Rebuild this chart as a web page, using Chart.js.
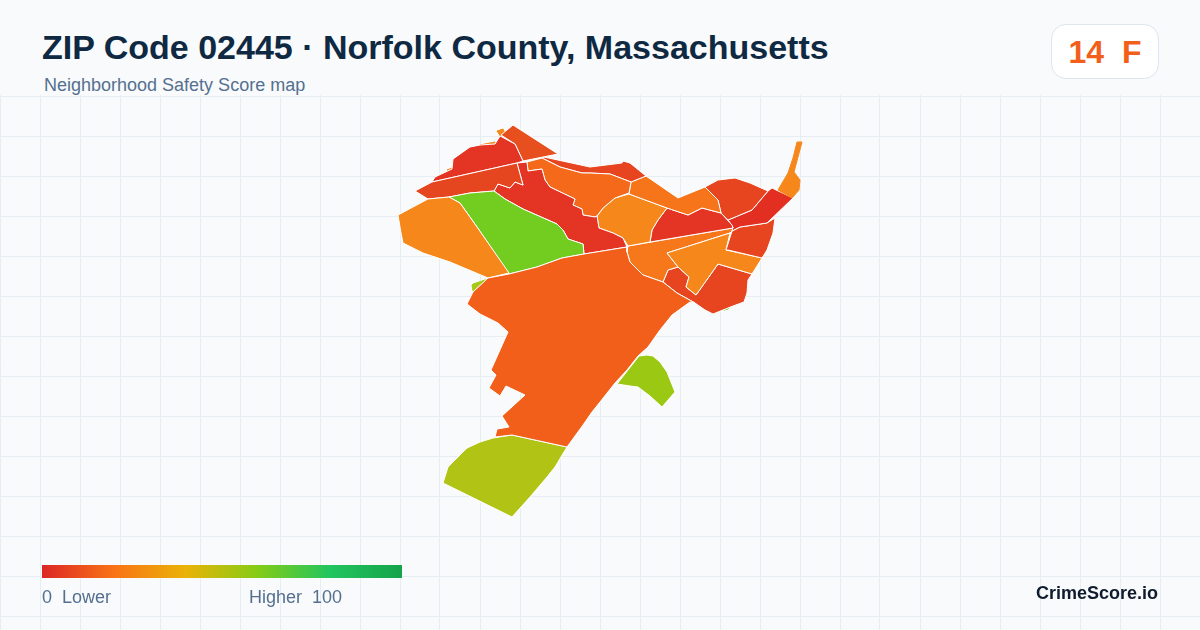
<!DOCTYPE html>
<html>
<head>
<meta charset="utf-8">
<title>ZIP Code 02445</title>
<script src="https://cdn.jsdelivr.net/npm/chart.js@4/dist/chart.umd.min.js"></script>
<style>
  html, body { margin: 0; padding: 0; }
  body { width: 1200px; height: 630px; position: relative; overflow: hidden; background: #f8fafc; font-family: "Liberation Sans", Arial, sans-serif; }
  #map { position: absolute; left: 0; top: 95px; }
  .abs { position: absolute; white-space: pre; }
  #title { left: 42px; top: 27px; font-size: 34px; line-height: 40px; font-weight: 700; color: #0f2942; }
  #subtitle { left: 44px; top: 75px; font-size: 18px; line-height: 20px; color: #55708f; }
  #badge { left: 1051px; top: 24px; width: 106px; height: 53px; background: #fff; border: 1px solid #dde5ee; border-radius: 15px; text-align: center; font-size: 32px; line-height: 54px; font-weight: 700; color: #f25f1a; }
  #scale { left: 42px; top: 565px; width: 360px; height: 13px; background: linear-gradient(90deg, #dc2626 0%, #f97316 20%, #eab308 40%, #84cc16 60%, #22c55e 80%, #16a34a 100%); }
  #low { left: 42px; top: 587px; font-size: 18px; line-height: 20px; color: #55708f; }
  #high { left: 249px; top: 587px; font-size: 18px; line-height: 20px; color: #55708f; }
  #brand { right: 42px; top: 582px; font-size: 18px; line-height: 22px; font-weight: 700; color: #101c2e; }
</style>
</head>
<body>
<canvas id="map" width="1200" height="535"></canvas>
<div class="abs" id="title">ZIP Code 02445 · Norfolk County, Massachusetts</div>
<div class="abs" id="subtitle">Neighborhood Safety Score map</div>
<div class="abs" id="badge">14  F</div>
<div class="abs" id="scale"></div>
<div class="abs" id="low">0  Lower</div>
<div class="abs" id="high">Higher  100</div>
<div class="abs" id="brand">CrimeScore.io</div>
<script>
// grid lines
const gridX = [0,40,80,120,160,200,240,280,320,360,400,440,480,520,560,600,640,680,720,760,800,840,880,920,960,1000,1040,1080,1120,1160,1200];
const gridY = [96,136,176,216,256,296,336,376,416,456,496,536,576,616];

// outlines
const southLarge = [[488,278],[509,274],[537,267],[562,258],[584,254],[627,247],[627,252],[630,262],[643,275],[663,282],[677,293],[695,303],[690,302],[672,315],[660,330],[648,347],[638,356],[627,370],[615,383],[600,402],[592,412],[583,425],[567,447],[512,435],[495,437],[497,429],[509,427],[502,416],[525,395],[506,386],[500,396],[489,388],[496,375],[491,370],[508,332],[498,323],[480,314],[467,304],[473,292]];
const southSliver = [[472,285],[473,291],[483,282],[488,279],[473,284]];
const westOrange = [[398,215],[428,199],[449,197],[460,203],[477,227],[509,273],[488,278],[450,262],[423,253],[403,243],[401,233]];
const westGreen = [[449,197],[470,193],[494,191],[505,199],[523,209],[557,224],[563,230],[568,239],[583,244],[584,254],[562,258],[537,267],[509,274],[477,227],[460,203]];
const westStrip = [[415,191],[432,182],[517,163],[523,185],[515,182],[510,188],[498,184],[494,191],[470,193],[449,197],[428,199]];
const northWest = [[432,182],[435,177],[452,169],[453,159],[470,147],[480,145],[495,144],[500,136],[515,144],[523,161],[517,163]];
const northTop = [[501,135],[513,125],[558,154],[523,161],[515,144]];
const blipA = [[497,131],[503,129],[505,133],[501,137]];
const blipB = [[480,145],[495,142],[494,145]];
const blipC = [[447,170],[452,168],[452,170],[449,171]];
const centerRed = [[517,163],[527,162],[528,171],[542,169],[545,180],[550,187],[575,199],[573,205],[582,209],[583,215],[595,217],[597,216],[599,228],[613,233],[623,238],[627,247],[584,254],[583,244],[568,239],[563,230],[557,224],[523,209],[505,199],[494,191],[498,184],[510,188],[515,182],[523,185]];
const topOrange = [[527,162],[542,158],[560,167],[582,173],[590,173],[610,174],[631,182],[629,193],[615,198],[603,208],[597,216],[595,217],[583,215],[582,209],[573,205],[575,199],[550,187],[545,180],[542,169],[528,171]];
const northStrip = [[542,158],[544,157],[590,167],[622,163],[623,161],[630,163],[646,176],[631,182],[610,174],[590,173],[582,173],[560,167]];
const eastBand = [[646,176],[678,198],[705,187],[718,200],[721,213],[702,208],[688,215],[667,208],[629,194],[631,182]];
const centerOrange = [[629,194],[667,208],[658,220],[652,230],[650,242],[628,246],[623,238],[613,233],[599,228],[597,216],[603,208],[615,198]];
const centerRed2 = [[667,208],[688,215],[702,208],[721,213],[732,225],[733,228],[650,242],[652,230],[658,220]];
const northEast = [[705,187],[718,180],[735,178],[750,183],[768,191],[752,210],[728,220],[721,213],[718,200]];
const spit = [[797,142],[802,142],[794,172],[800,180],[799,190],[792,198],[778,190],[788,173],[793,158]];
const eastRed = [[772,188],[793,198],[767,223],[740,227],[732,231],[733,227],[728,220],[752,210],[768,191]];
const eastLower = [[732,231],[740,227],[767,223],[775,218],[773,233],[767,250],[762,258],[728,250],[726,250]];
const southOrange = [[730,233],[726,250],[762,258],[752,274],[718,264],[696,295],[686,287],[689,277],[678,267],[667,253]];
const midOrange = [[628,246],[733,228],[732,231],[730,233],[667,253],[678,267],[668,270],[663,282],[643,275],[630,262],[627,252]];
const southEast = [[663,282],[668,270],[678,267],[689,277],[686,287],[696,295],[718,264],[752,274],[748,280],[747,293],[744,302],[733,306],[728,308],[713,314],[705,310],[695,303],[677,293]];
const eastSpeck = [[724,310],[729,307],[728,309]];
const limePatch = [[639,356],[647,355],[653,356],[660,362],[667,372],[671,382],[675,392],[662,407],[650,396],[638,387],[630,386],[617,384]];
const olivePatch = [[567,447],[555,467],[547,477],[530,497],[512,517],[443,483],[448,467],[458,457],[467,448],[480,442],[493,438],[512,435]];

const regions = [southLarge, southSliver, westOrange, westGreen, westStrip, northWest, northTop, blipA, blipB, blipC, centerRed, topOrange, northStrip, eastBand, centerOrange, centerRed2, northEast, spit, eastRed, eastLower, southOrange, midOrange, southEast, eastSpeck, limePatch, olivePatch];
const regionColors = ['#f25f1a', '#a8c816', '#f6871a', '#73cc20', '#e6461f', '#e43524', '#e84f1f', '#f6871a', '#f6871a', '#f6871a', '#e43524', '#f46a1a', '#e6451f', '#f6741a', '#f6871a', '#e43524', '#e6451f', '#f6871a', '#e32f22', '#e6451f', '#f6871a', '#f6781a', '#e6451f', '#73cc20', '#9bc813', '#b1c314'];
// too small for a white edge
const noEdge = [southSliver, blipA, blipB, blipC, spit, eastSpeck];

new Chart(document.getElementById('map'), {
    type: 'scatter',
    data: {
        datasets: regions.map((shape, i) => ({
            data: shape.concat([shape[0]]).map(p => ({ x: p[0], y: p[1] })),
            showLine: true,
            fill: 'shape',
            tension: 0,
            pointRadius: 0,
            borderWidth: 1,
            borderColor: noEdge.includes(shape) ? regionColors[i] : '#ffffff',
            backgroundColor: regionColors[i]
        }))
    },
    options: {
        responsive: false,
        animation: false,
        devicePixelRatio: 1,
        layout: { padding: 0 },
        plugins: { legend: { display: false }, tooltip: { enabled: false } },
        scales: {
            x: {
                type: 'linear', min: 0, max: 1200,
                afterBuildTicks: axis => { axis.ticks = gridX.map(v => ({ value: v })); },
                ticks: { display: false },
                border: { display: false },
                grid: { color: '#e6eef3', lineWidth: 1, drawTicks: false }
            },
            y: {
                type: 'linear', min: 95, max: 630, reverse: true,
                afterBuildTicks: axis => { axis.ticks = gridY.map(v => ({ value: v })); },
                ticks: { display: false },
                border: { display: false },
                grid: { color: '#e6eef3', lineWidth: 1, drawTicks: false }
            }
        }
    }
});
</script>
</body>
</html>
